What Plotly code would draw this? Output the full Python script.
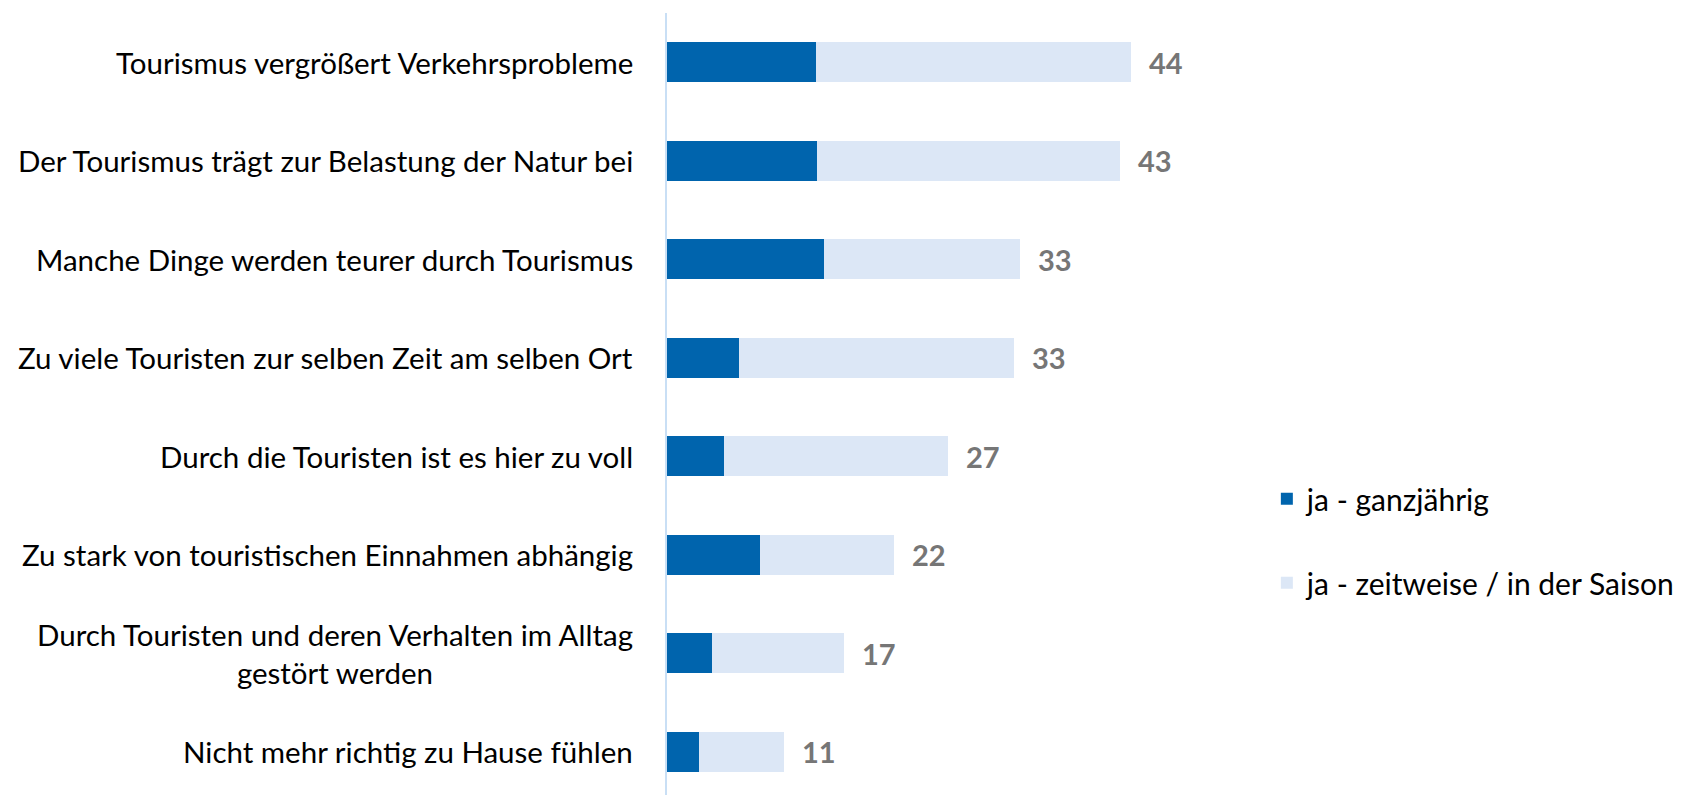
import plotly.graph_objects as go

categories = [
    "Tourismus vergrößert Verkehrsprobleme",
    "Der Tourismus trägt zur Belastung der Natur bei",
    "Manche Dinge werden teurer durch Tourismus",
    "Zu viele Touristen zur selben Zeit am selben Ort",
    "Durch die Touristen ist es hier zu voll",
    "Zu stark von touristischen Einnahmen abhängig",
    "Durch Touristen und deren Verhalten im Alltag<br>gestört werden",
    "Nicht mehr richtig zu Hause fühlen",
]
ganzjaehrig = [14.1, 14.2, 14.9, 6.8, 5.4, 8.8, 4.3, 3.0]
zeitweise = [29.9, 28.8, 18.6, 26.1, 21.3, 12.7, 12.5, 8.1]
totals_label = [44, 43, 33, 33, 27, 22, 17, 11]
series_names = ["ja - ganzjährig", "ja - zeitweise / in der Saison"]

DARK = "#0064AD"
LIGHT = "#DCE7F6"
FONT = "Lato"

fig = go.Figure()
fig.add_trace(go.Bar(
    y=categories, x=ganzjaehrig, orientation="h", name=series_names[0],
    marker=dict(color=DARK, line=dict(width=0)), legendgroup="a",
    hoverinfo="skip",
))
fig.add_trace(go.Bar(
    y=categories, x=zeitweise, orientation="h", name=series_names[1],
    marker=dict(color=LIGHT, line=dict(width=0)), legendgroup="b",
    hoverinfo="skip",
))

for cat, a, b, t in zip(categories, ganzjaehrig, zeitweise, totals_label):
    fig.add_annotation(
        x=a + b, y=cat, xref="x", yref="y", text=str(t), showarrow=False,
        xanchor="left", xshift=16,
        font=dict(family=FONT, size=29, color="#767676", weight="bold"),
    )
    fig.add_annotation(
        x=0, y=cat, xref="paper", yref="y", text=cat, showarrow=False,
        xanchor="right", xshift=-32, align="center",
        font=dict(family=FONT, size=29.5, color="#000000"),
    )

fig.update_layout(
    width=1673, height=787,
    margin=dict(l=659, r=0, t=5, b=0),
    paper_bgcolor="white", plot_bgcolor="white",
    barmode="stack", bargap=0.594,
    showlegend=True,
    legend=dict(
        x=0.6053, y=0.412, xanchor="left", yanchor="top",
        font=dict(family=FONT, size=30, color="#000000"),
        tracegroupgap=42, traceorder="grouped",
        bgcolor="rgba(0,0,0,0)",
    ),
    xaxis=dict(range=[0, 94.0], visible=False, fixedrange=True),
    yaxis=dict(
        type="category", range=[7.44, -0.5], showticklabels=False,
        showline=True, linecolor="#C9DFF5", linewidth=2,
        showgrid=False, zeroline=False, ticks="",
    ),
    font=dict(family=FONT),
)

fig.write_html("out.html")
